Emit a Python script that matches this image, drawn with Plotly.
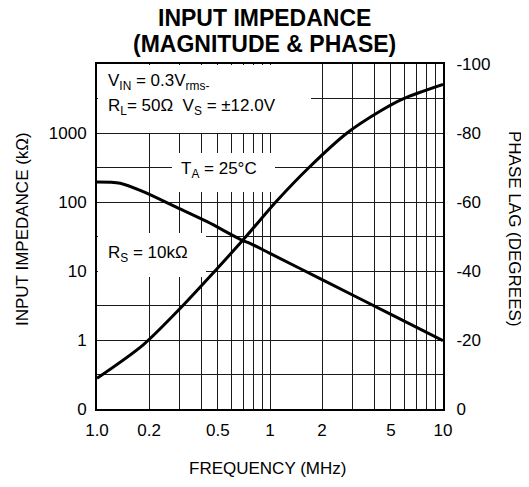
import plotly.graph_objects as go

# ---- data ----
freq_mag = [0.1, 0.136, 0.185, 0.283, 0.433, 0.686, 0.766, 1.0, 2.0, 5.0, 10.0]
mag_kohm = [195, 187, 141, 85.5, 51.8, 28.1, 25.2, 18.0, 7.5, 2.35, 0.98]

freq_phase = [0.1, 0.185, 0.314, 0.481, 0.727, 1.08, 1.68, 2.79, 4.32, 5.87, 10.0]
phase_deg = [-8.9, -18.6, -30.0, -40.0, -50.0, -60.0, -70.0, -80.0, -86.3, -89.9, -94.1]

x_grid = [0.1, 0.2, 0.3, 0.4, 0.5, 0.6, 0.7, 0.8, 0.9, 1, 2, 3, 4, 5, 6, 7, 8, 9, 10]
x_labels = {0.1: "1.0", 0.2: "0.2", 0.5: "0.5", 1: "1", 2: "2", 5: "5", 10: "10"}
y_left_vals = [0.1, 1, 10, 100, 1000]
y_left_text = ["0", "1", "10", "100", "1000"]
y_right_vals = [0, -10, -20, -30, -40, -50, -60, -70, -80, -90, -100]
y_right_text = ["0", "", "-20", "", "-40", "", "-60", "", "-80", "", "-100"]

FONT = "Liberation Sans, Arial, sans-serif"
W, H = 529, 487
OFF = 8  # page body margin
# plot frame in page pixels
L, R, T, B = 97, 443, 64, 409


def px(x):
    return (x - L) / (R - L)


def py(y):
    return (B - y) / (B - T)


fig = go.Figure()
fig.add_trace(go.Scatter(x=freq_mag, y=mag_kohm, mode="lines", yaxis="y",
                         line=dict(color="black", width=3, shape="spline", smoothing=0.8),
                         hoverinfo="skip", showlegend=False))
fig.add_trace(go.Scatter(x=freq_phase, y=phase_deg, mode="lines", yaxis="y2",
                         line=dict(color="black", width=3, shape="spline", smoothing=0.8),
                         hoverinfo="skip", showlegend=False))

grid_col = "#1a1a1a"
fig.update_layout(
    width=W, height=H,
    margin=dict(l=L - OFF, r=W - (R - OFF), t=T - OFF, b=H - (B - OFF)),
    paper_bgcolor="white", plot_bgcolor="white",
    font=dict(family=FONT, size=17, color="black"),
    showlegend=False,
    xaxis=dict(type="log", range=[-1, 1], tickvals=x_grid,
               ticktext=[x_labels.get(v, "") for v in x_grid],
               showgrid=True, gridcolor=grid_col, gridwidth=1,
               showline=True, linecolor="black", linewidth=2, mirror=True,
               ticks="", ticklabelstandoff=5, zeroline=False,
               tickfont=dict(size=17)),
    yaxis=dict(type="log", range=[-1, 4], tickvals=y_left_vals, ticktext=y_left_text,
               showgrid=False, showline=True, linecolor="black", linewidth=2,
               ticks="", ticklabelstandoff=5, zeroline=False, tickfont=dict(size=17)),
    yaxis2=dict(overlaying="y", side="right", range=[0, -100],
                tickvals=y_right_vals, ticktext=y_right_text,
                showgrid=True, gridcolor=grid_col, gridwidth=1,
                showline=True, linecolor="black", linewidth=2,
                ticks="", ticklabelstandoff=8, zeroline=False, tickfont=dict(size=17)),
)

ann = []
# white masks that break the grid behind the in-plot labels
masks = [(L + 1, T + 1, 311, 133), (172, 153, 275, 192), (L + 1, 233, 206, 277)]
for x0, y0, x1, y1 in masks:
    ann.append(dict(text=" ", x=px(x0), y=py(y0), xanchor="left", yanchor="top",
                    width=x1 - x0, height=y1 - y0, bgcolor="white",
                    borderpad=0, borderwidth=0))

ann.append(dict(text="<b>INPUT IMPEDANCE</b>", x=px(264.5), y=py(18), font=dict(size=23)))
ann.append(dict(text="<b>(MAGNITUDE & PHASE)</b>", x=px(264.5), y=py(44), font=dict(size=23)))
ann.append(dict(text="INPUT IMPEDANCE (kΩ)", x=px(22), y=py(229), textangle=-90))
ann.append(dict(text="PHASE LAG (DEGREES)", x=px(515), y=py(229), textangle=90))
ann.append(dict(text="FREQUENCY (MHz)", x=px(267), y=py(468)))
ann.append(dict(text="V<sub>IN</sub> = 0.3V<sub>rms-</sub>", x=px(106), y=py(81.5), xanchor="left"))
ann.append(dict(text="R<sub>L</sub>= 50Ω\u00a0 V<sub>S</sub> = ±12.0V", x=px(106), y=py(106.5), xanchor="left"))
ann.append(dict(text="T<sub>A</sub> = 25°C", x=px(179), y=py(170), xanchor="left"))
ann.append(dict(text="R<sub>S</sub> = 10kΩ", x=px(106), y=py(254), xanchor="left"))
for a in ann:
    a.setdefault("xanchor", "center")
    a.setdefault("yanchor", "middle")
    a.update(xref="paper", yref="paper", showarrow=False)
    a.setdefault("font", dict(size=17))
    a["font"] = dict(family=FONT, color="black", **a["font"])
fig.update_layout(annotations=ann)

fig.write_html("out.html")
